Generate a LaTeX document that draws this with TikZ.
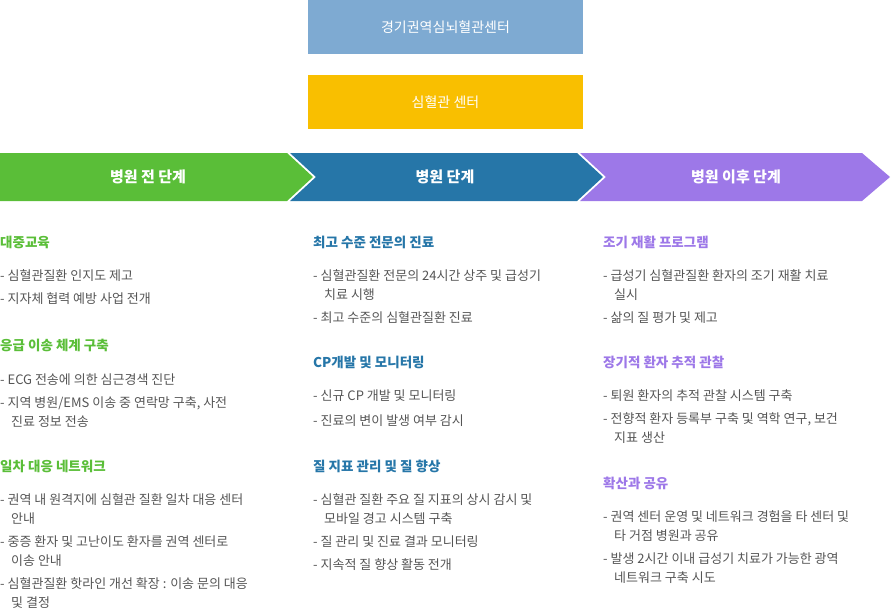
\documentclass[tikz,border=0pt]{standalone}
\usepackage{fontspec}
\setmainfont{Noto Sans CJK KR}
\definecolor{cgreen}{HTML}{5ABE38}
\definecolor{cblue}{HTML}{2676A8}
\definecolor{cpurple}{HTML}{9D78E8}
\definecolor{ctop}{HTML}{7EAAD2}
\definecolor{cyel}{HTML}{F9BF00}
\definecolor{ctxt}{HTML}{555555}
\begin{document}
\begin{tikzpicture}[x=1pt,y=-1pt,
  box/.style={minimum width=275pt,minimum height=54pt,inner sep=0pt,text=white,font=\fontsize{14}{16}\selectfont},
  band/.style={text=white,font=\fontsize{15}{17}\selectfont\bfseries},
  hd/.style={anchor=west,inner sep=0pt,font=\fontsize{13.5}{15}\selectfont\bfseries},
  it/.style={anchor=west,inner sep=0pt,text=ctxt,font=\fontsize{13}{15}\selectfont}]
\useasboundingbox (0,0) rectangle (891,611);
\node[box,fill=ctop] (top) at (445.5,27) {경기권역심뇌혈관센터};
\node[box,fill=cyel] (yel) at (445.5,102) {심혈관 센터};
\fill[cgreen] (0,153)--(287,153)--(313,177)--(287,201)--(0,201)--cycle;
\fill[cblue] (290,153)--(577,153)--(603,177)--(577,201)--(290,201)--(316,177)--cycle;
\fill[cpurple] (580,153)--(862,153)--(890,177)--(862,201)--(580,201)--(606,177)--cycle;
\node[band] (b1) at (148,177) {병원 전 단계};
\node[band] (b2) at (445,177) {병원 단계};
\node[band] (b3) at (736,177) {병원 이후 단계};
% column 1
\node[hd,text=cgreen] (h11) at (0,242) {대중교육};
\node[it] (a1) at (0,276) {- 심혈관질환 인지도 제고};
\node[it] (a2) at (0,299) {- 지자체 협력 예방 사업 전개};
\node[hd,text=cgreen] (h12) at (0,345) {응급 이송 체계 구축};
\node[it] (a3) at (0,380) {- ECG 전송에 의한 심근경색 진단};
\node[it] (a4) at (0,403) {- 지역 병원/EMS 이송 중 연락망 구축, 사전};
\node[it] (a5) at (11,422) {진료 정보 전송};
\node[hd,text=cgreen] (h13) at (0,466) {일차 대응 네트워크};
\node[it] (a6) at (0,500) {- 권역 내 원격지에 심혈관 질환 일차 대응 센터};
\node[it] (a7) at (11,519) {안내};
\node[it] (a8) at (0,542) {- 중증 환자 및 고난이도 환자를 권역 센터로};
\node[it] (a9) at (11,561) {이송 안내};
\node[it] (a10) at (0,584) {- 심혈관질환 핫라인 개선 확장 : 이송 문의 대응};
\node[it] (a11) at (11,603) {및 결정};
% column 2
\node[hd,text=cblue] (h21) at (313,242) {최고 수준 전문의 진료};
\node[it] (b1a) at (313,276) {- 심혈관질환 전문의 24시간 상주 및 급성기};
\node[it] (b1b) at (324,295) {치료 시행};
\node[it] (b1c) at (313,318) {- 최고 수준의 심혈관질환 진료};
\node[hd,text=cblue] (h22) at (313,362) {CP개발 및 모니터링};
\node[it] (b2a) at (313,396) {- 신규 CP 개발 및 모니터링};
\node[it] (b2b) at (313,421) {- 진료의 변이 발생 여부 감시};
\node[hd,text=cblue] (h23) at (313,466) {질 지표 관리 및 질 향상};
\node[it] (b3a) at (313,500) {- 심혈관 질환 주요 질 지표의 상시 감시 및};
\node[it] (b3b) at (324,519) {모바일 경고 시스템 구축};
\node[it] (b3c) at (313,542) {- 질 관리 및 진료 결과 모니터링};
\node[it] (b3d) at (313,565) {- 지속적 질 향상 활동 전개};
% column 3
\node[hd,text=cpurple] (h31) at (603,242) {조기 재활 프로그램};
\node[it] (c1a) at (603,276) {- 급성기 심혈관질환 환자의 조기 재활 치료};
\node[it] (c1b) at (614,295) {실시};
\node[it] (c1c) at (603,318) {- 삶의 질 평가 및 제고};
\node[hd,text=cpurple] (h32) at (603,362) {장기적 환자 추적 관찰};
\node[it] (c2a) at (603,396) {- 퇴원 환자의 추적 관찰 시스템 구축};
\node[it] (c2b) at (603,419) {- 전향적 환자 등록부 구축 및 역학 연구, 보건};
\node[it] (c2c) at (614,438) {지표 생산};
\node[hd,text=cpurple] (h33) at (603,483) {확산과 공유};
\node[it] (c3a) at (603,517) {- 권역 센터 운영 및 네트워크 경험을 타 센터 및};
\node[it] (c3b) at (614,536) {타 거점 병원과 공유};
\node[it] (c3c) at (603,559) {- 발생 2시간 이내 급성기 치료가 가능한 광역};
\node[it] (c3d) at (614,578) {네트워크 구축 시도};
\end{tikzpicture}
\end{document}
